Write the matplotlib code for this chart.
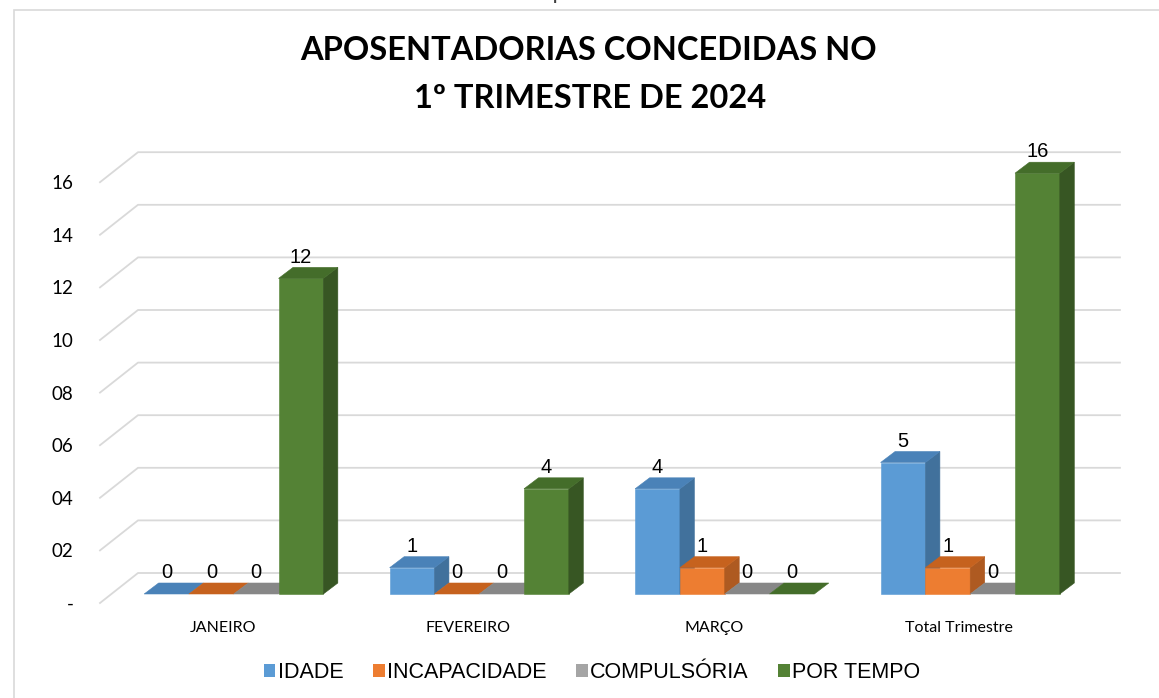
import matplotlib
matplotlib.use('Agg')
import matplotlib.pyplot as plt
from matplotlib.patches import Polygon, Patch, Rectangle

plt.rcParams['font.family'] = ['Lato', 'DejaVu Sans']

# data
categories = ['JANEIRO', 'FEVEREIRO', 'MARÇO', 'Total Trimestre']
series = ['IDADE', 'INCAPACIDADE', 'COMPULSÓRIA', 'POR TEMPO']
idade = [0, 1, 4, 5]
incapacidade = [0, 0, 1, 1]
compulsoria = [0, 0, 0, 0]
por_tempo = [12, 4, 0, 16]
yticks = [0, 2, 4, 6, 8, 10, 12, 14, 16]
ytick_labels = ['-', '02', '04', '06', '08', '10', '12', '14', '16']

values = [idade, incapacidade, compulsoria, por_tempo]

front = ['#5B9BD5', '#ED7D31', '#A5A5A5', '#548235']
side = ['#41719C', '#AE5A21', '#7C7C7C', '#375623']
top = ['#4A82B8', '#C6621E', '#878787', '#446D2A']

W, H = 1159, 698
fig = plt.figure(figsize=(W / 100, H / 100), dpi=100)

# px per unit: x 245.5, y 26.3
ax = fig.add_axes([100 / W, 95 / H, 1020 / W, 17.3 * 26.3 / H])
ax.set_xlim(-0.5, 3.655)
ax.set_ylim(0, 17.3)
for s in ax.spines.values():
    s.set_visible(False)

# 3d offsets (data units)
gdx, gdy = 38 / 245.5, 30 / 26.3     # wall depth
bdx, bdy = 11 / 245.5, 9 / 26.3      # bar front plane
ddx, ddy = 14.5 / 245.5, 11 / 26.3   # bar depth
bw = 44.8 / 245.5

# gridlines on the back wall
for v in yticks:
    ax.plot([-0.5, -0.5 + gdx, 3.5 + gdx], [v, v + gdy, v + gdy],
            color='#d9d9d9', lw=1.3, zorder=1, clip_on=False)

for i in range(len(categories)):
    for j in range(len(series)):
        v = values[j][i]
        x0 = i - 2 * bw + j * bw + bdx
        y0 = bdy
        if v > 0:
            ax.bar(x0, v, width=bw, bottom=y0, align='edge', color=front[j],
                   edgecolor=front[j], lw=0.4, zorder=3)
            ax.add_patch(Polygon([(x0 + bw, y0), (x0 + bw + ddx, y0 + ddy),
                                  (x0 + bw + ddx, y0 + v + ddy), (x0 + bw, y0 + v)],
                                 closed=True, fc=side[j], ec=side[j], lw=0.4, zorder=3))
        ax.add_patch(Polygon([(x0, y0 + v), (x0 + ddx, y0 + v + ddy),
                              (x0 + bw + ddx, y0 + v + ddy), (x0 + bw, y0 + v)],
                             closed=True, fc=top[j], ec=top[j], lw=0.4, zorder=3))
        ax.text(x0 + bw / 2, y0 + v + ddy + 0.03, str(v), ha='center', va='bottom',
                fontsize=14.5, family=['Liberation Sans'], color='#000000', zorder=5)

ax.set_yticks(yticks, ytick_labels)
ax.set_xticks(range(len(categories)), categories)
ax.tick_params(axis='y', length=0, pad=19, labelsize=13.5, labelcolor='#000000')
ax.tick_params(axis='x', length=0, pad=13, labelsize=11.5, labelcolor='#000000')

fig.text(588 / W, 1 - 51 / H, 'APOSENTADORIAS CONCEDIDAS NO', ha='center', va='center',
         fontsize=23.5, fontweight='bold', color='#000000')
fig.text(590 / W, 1 - 98 / H, '1º TRIMESTRE DE 2024', ha='center', va='center',
         fontsize=23.5, fontweight='bold', color='#000000')

# caption cut off at the very top, as in the source image
fig.text(575 / W, 1 + 1 / H, 'Gráfico 7 - Total de aposentadorias concedidas',
         ha='center', va='baseline', fontsize=16, color='#404040')

handles = [Patch(facecolor=c, edgecolor='none') for c in front]
fig.legend(handles, series, loc='center', bbox_to_anchor=(592 / W, 1 - 673 / H), ncol=4,
           frameon=False, handlelength=0.55, handleheight=0.55, handletextpad=0.12,
           columnspacing=1.35, prop={'family': 'Liberation Sans', 'size': 15.5})

fig.add_artist(Rectangle((14 / W, -0.05), 1.2, 1 - 10 / H + 0.05, transform=fig.transFigure,
                         fill=False, ec='#d9d9d9', lw=1.2))

fig.savefig('out.png', dpi=100)
